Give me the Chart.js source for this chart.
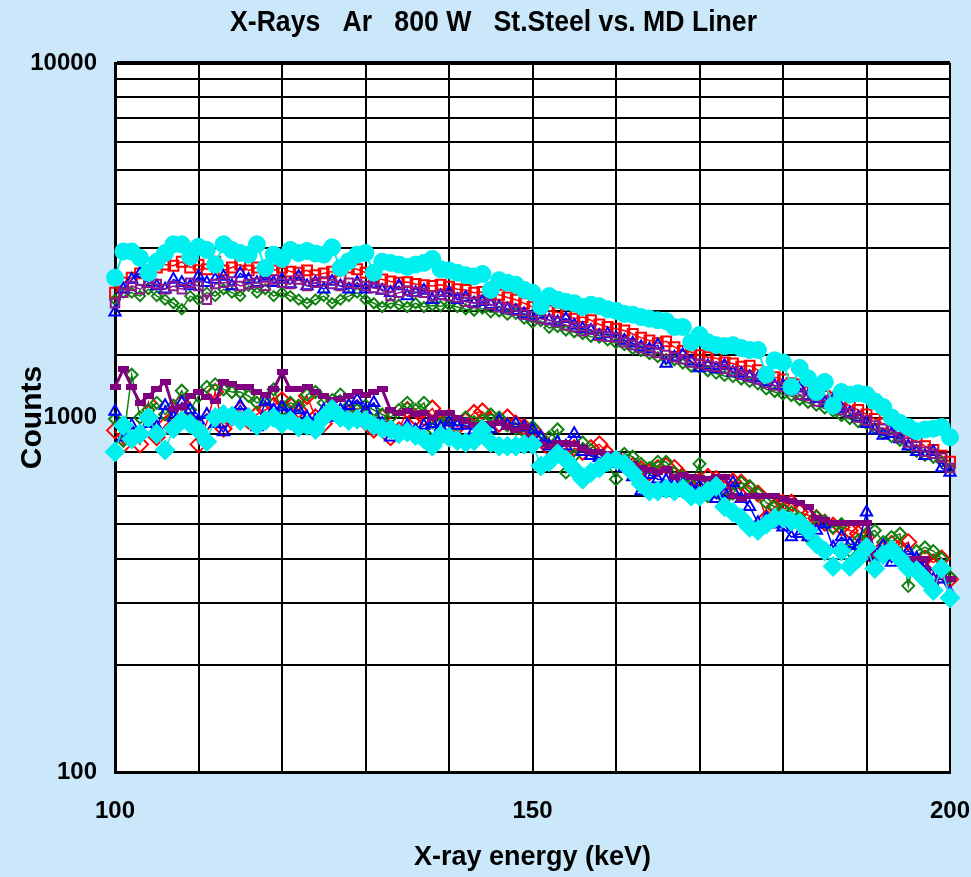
<!DOCTYPE html>
<html>
<head>
<meta charset="utf-8">
<script src="https://cdn.jsdelivr.net/npm/chart.js@4.4.1/dist/chart.umd.min.js"></script>
<style>
  html, body { margin: 0; padding: 0; background: #cbe8fb; }
  #wrap { width: 971px; height: 877px; }
</style>
</head>
<body>
<div id="wrap"><canvas id="xrayChart" width="971" height="877"></canvas></div>
<script>
// energy grid (keV), one channel per keV
const energy = [
  100, 101, 102, 103, 104, 105, 106, 107, 108, 109,
  110, 111, 112, 113, 114, 115, 116, 117, 118, 119,
  120, 121, 122, 123, 124, 125, 126, 127, 128, 129,
  130, 131, 132, 133, 134, 135, 136, 137, 138, 139,
  140, 141, 142, 143, 144, 145, 146, 147, 148, 149,
  150, 151, 152, 153, 154, 155, 156, 157, 158, 159,
  160, 161, 162, 163, 164, 165, 166, 167, 168, 169,
  170, 171, 172, 173, 174, 175, 176, 177, 178, 179,
  180, 181, 182, 183, 184, 185, 186, 187, 188, 189,
  190, 191, 192, 193, 194, 195, 196, 197, 198, 199,
  200
];

// upper group of spectra
const upperCyan = [
  2480, 2940, 2940, 2820, 2560, 2750, 2910, 3080, 3080, 2840,
  3030, 2970, 2700, 3080, 2970, 2910, 2880, 3080, 2640, 2880,
  2800, 2970, 2910, 2950, 2900, 2880, 3020, 2640, 2760, 2880,
  2910, 2560, 2750, 2730, 2700, 2660, 2700, 2730, 2800, 2620,
  2600, 2560, 2520, 2500, 2540, 2290, 2440, 2400, 2370, 2290,
  2250, 2060, 2200, 2150, 2120, 2100, 2050, 2080, 2060, 2020,
  2000, 1960, 1950, 1920, 1900, 1880, 1870, 1800, 1800, 1630,
  1710, 1630, 1600, 1590, 1600, 1570, 1550, 1550, 1320, 1450,
  1430, 1220, 1380, 1290, 1180, 1260, 1080, 1180, 1160, 1170,
  1160, 1110, 1070, 1000, 966, 940, 915, 925, 930, 940,
  880
];
const upperRed = [
  2250, 2400, 2480, 2550, 2600, 2650, 2700, 2680, 2750, 2650,
  2700, 2620, 2750, 2600, 2650, 2700, 2600, 2650, 2550, 2600,
  2650, 2580, 2560, 2600, 2520, 2550, 2580, 2500, 2650, 2620,
  2560, 2480, 2450, 2420, 2400, 2410, 2380, 2360, 2350, 2370,
  2340, 2300, 2290, 2250, 2260, 2230, 2220, 2180, 2150, 2100,
  2050, 2080, 2000, 1980, 1950, 1900, 1920, 1880, 1830, 1800,
  1780, 1760, 1720, 1680, 1650, 1620, 1640, 1580, 1540, 1530,
  1500, 1480, 1470, 1430, 1420, 1390, 1400, 1360, 1330, 1300,
  1280, 1250, 1240, 1210, 1190, 1150, 1140, 1100, 1080, 1050,
  1020, 990, 960, 950, 920, 880, 860, 830, 810, 780,
  750
];
const upperBlue = [
  1980, 2300, 2450, 2550, 2400, 2350, 2300, 2450, 2400, 2350,
  2500, 2400, 2450, 2500, 2350, 2550, 2450, 2400, 2500, 2400,
  2450, 2380, 2500, 2350, 2400, 2300, 2420, 2350, 2300, 2400,
  2300, 2380, 2280, 2250, 2350, 2200, 2250, 2280, 2150, 2200,
  2250, 2150, 2180, 2100, 2120, 2080, 2050, 2020, 2000, 1960,
  1930, 1950, 1880, 1860, 1900, 1820, 1780, 1760, 1700, 1720,
  1680, 1650, 1620, 1580, 1560, 1600, 1420, 1480, 1500, 1440,
  1380, 1400, 1370, 1400, 1340, 1330, 1300, 1290, 1260, 1230,
  1230, 1200, 1210, 1150, 1130, 1100, 1120, 1060, 1030, 1000,
  960, 920, 890, 900, 870, 830, 800, 780, 800, 720,
  700
];
const upperPurple = [
  2100, 2250, 2350, 2300, 2400, 2380, 2300, 2350, 2300, 2400,
  2350, 2150, 2380, 2400, 2420, 2350, 2380, 2400, 2350, 2450,
  2400, 2380, 2450, 2350, 2400, 2420, 2380, 2350, 2400, 2380,
  2350, 2320, 2300, 2200, 2250, 2280, 2260, 2250, 2200, 2220,
  2200, 2180, 2120, 2100, 2150, 2080, 2050, 2030, 2000, 1950,
  1930, 1900, 1880, 1860, 1820, 1800, 1750, 1770, 1700, 1690,
  1680, 1630, 1600, 1570, 1540, 1520, 1500, 1480, 1460, 1430,
  1420, 1400, 1390, 1370, 1350, 1320, 1300, 1280, 1250, 1230,
  1220, 1190, 1160, 1150, 1110, 1120, 1080, 1050, 1030, 1000,
  980, 950, 930, 920, 880, 850, 830, 800, 790, 770,
  720
];
const upperGreen = [
  2150, 2250, 2250, 2200, 2300, 2200, 2150, 2100, 2020, 2200,
  2150, 2250, 2200, 2300, 2250, 2200, 2350, 2250, 2300, 2200,
  2250, 2200, 2150, 2100, 2150, 2200, 2100, 2150, 2200, 2250,
  2150, 2100, 2050, 2100, 2080, 2050, 2100, 2050, 2070, 2060,
  2080, 2050, 2020, 2000, 2030, 1980, 1990, 1950, 1960, 1900,
  1850, 1870, 1790, 1800, 1760, 1740, 1720, 1690, 1680, 1650,
  1620, 1600, 1560, 1540, 1510, 1480, 1460, 1450, 1420, 1390,
  1380, 1350, 1330, 1310, 1300, 1280, 1260, 1240, 1200, 1180,
  1160, 1150, 1120, 1100, 1080, 1060, 1040, 1010, 990, 970,
  960, 930, 900, 880, 860, 830, 800, 780, 770, 750,
  720
];

// lower group of spectra
const lowerCyan = [
  800, 950, 870, 900, 1000, 900, 810, 930, 980, 960,
  920, 855, 1000, 1020, 1010, 980, 1000, 950, 980, 1000,
  960, 980, 940, 950, 925, 1000, 1055, 1000, 980, 990,
  980, 950, 930, 925, 900, 910, 890, 870, 830, 890,
  880, 860, 850, 860, 925, 850, 830, 830, 830, 840,
  840, 730, 750, 790, 760, 715, 670, 700, 720, 750,
  760, 740, 700, 650, 620, 620, 630, 620, 630, 600,
  600, 620, 640, 560, 540, 520, 490, 480, 500, 520,
  520, 510, 505, 480, 440, 420, 380, 420, 380, 400,
  430, 375, 410, 425, 400, 375, 370, 350, 325, 375,
  310
];
const lowerRed = [
  920, 840, 900, 840, 1100, 880, 950, 1000, 1100, 980,
  840, 970, 1180, 930, 1000, 1050, 980, 1020, 1050, 1080,
  1120, 1080, 1050, 1150, 1000, 960, 1050, 1000, 1030, 1060,
  970, 925, 1000, 880, 920, 1050, 1000, 1000, 1060, 970,
  1000, 940, 980, 1030, 1040, 980, 960, 1000, 960, 940,
  925, 870, 820, 800, 775, 820, 800, 820, 840, 790,
  760, 750, 730, 715, 700, 720, 730, 720, 680, 640,
  660, 680, 670, 655, 660, 655, 630, 610, 520, 560,
  575, 575, 540, 530, 520, 505, 495, 490, 480, 470,
  460, 400, 430, 440, 430, 445, 375, 400, 390, 400,
  350
];
const lowerGreen = [
  990, 860, 1320, 1000, 1050, 1100, 1020, 1080, 1190, 1050,
  1150, 1220, 1240, 1200, 1180, 1180, 1150, 1100, 1120, 1200,
  1050, 1100, 1080, 1160, 1180, 1100, 1120, 1160, 1080, 1050,
  1080, 1050, 1020, 1000, 1050, 1100, 1050, 1100, 930, 960,
  990, 950, 1000, 970, 980, 1020, 1000, 950, 930, 910,
  940, 870, 880, 925, 700, 780, 850, 810, 770, 740,
  670, 790, 775, 740, 720, 750, 750, 700, 680, 650,
  740, 600, 620, 590, 610, 655, 640, 610, 575, 560,
  550, 540, 520, 460, 525, 510, 490, 500, 420, 450,
  470, 480, 445, 460, 470, 335, 420, 430, 420, 400,
  355
];
const lowerBlue = [
  1040, 880, 950, 900, 960, 940, 1080, 1000, 1100, 1050,
  980, 1020, 960, 910, 1000, 1080, 1000, 940, 1110, 1050,
  1070, 1020, 1050, 1000, 980, 1050, 1000, 1050, 1080, 1120,
  1050, 1100, 960, 880, 900, 950, 920, 950, 960, 940,
  970, 950, 950, 920, 870, 930, 980, 950, 960, 940,
  925, 880, 830, 850, 830, 900, 800, 780, 770, 760,
  740, 720, 680, 620, 690, 670, 665, 650, 650, 630,
  640, 620, 590, 610, 655, 590, 560, 505, 520, 500,
  490, 460, 470, 460, 480, 500, 430, 460, 440, 435,
  540, 405, 435, 390, 410, 420, 400, 380, 350, 350,
  320
];
const lowerPurple = [
  1220, 1370, 1220, 1100, 1150, 1200, 1260, 1055, 1070, 1150,
  1180, 1140, 1110, 1260, 1240, 1220, 1220, 1180, 1160, 1200,
  1340, 1200, 1200, 1220, 1180, 1150, 1120, 1130, 1150, 1180,
  1160, 1180, 1200, 1050, 1030, 1040, 1020, 1030, 1000, 1030,
  1030, 1000, 980, 950, 950, 960, 965, 940, 925, 940,
  830, 840, 830, 850, 850, 840, 820, 800, 800, 790,
  780, 760, 740, 720, 710, 700, 715, 680, 690, 680,
  675, 670, 680, 680, 600, 590, 600, 600, 600, 600,
  590, 580, 575, 560, 520, 515, 505, 505, 505, 505,
  505, 410, 420, 410, 400, 400, 400, 400, 340, 360,
  350
];

const yTicksShown = [100, 1000, 10000];
const xTicksShown = [100, 150, 200];

const heading = 'X-Rays   Ar   800 W   St.Steel vs. MD Liner';
const sansBold = "'Liberation Sans', Arial, sans-serif";

// filled flat bar used as the lower purple marker
function barMarker(color) {
  const c = document.createElement('canvas');
  c.width = 11;
  c.height = 6;
  const g = c.getContext('2d');
  g.fillStyle = color;
  g.fillRect(0, 0, 11, 6);
  return c;
}

function series(values, color, style, radius, opts) {
  return Object.assign({
    data: energy.map((e, i) => ({ x: e, y: values[i] })),
    borderColor: color,
    backgroundColor: 'rgba(0,0,0,0)',
    pointBorderColor: color,
    pointBackgroundColor: 'rgba(0,0,0,0)',
    pointStyle: style,
    pointRadius: radius,
    pointBorderWidth: 2,
    borderWidth: 1.5,
    tension: 0,
    clip: false
  }, opts || {});
}

const datasets = [
  series(lowerCyan, '#00f0f0', 'rectRot', 10, { pointBackgroundColor: '#00f0f0', pointBorderWidth: 1, borderWidth: 1.5 }),
  series(upperCyan, '#00f0f0', 'circle', 8.5, { pointBackgroundColor: '#00f0f0', pointBorderWidth: 1, borderWidth: 2 }),
  series(lowerPurple, '#800080', barMarker('#800080'), 5, { borderWidth: 3 }),
  series(upperPurple, '#8b1a8b', 'rect', 6),
  series(lowerBlue, '#0000ff', 'triangle', 6.5),
  series(upperBlue, '#0000ff', 'triangle', 6.5),
  series(lowerGreen, '#108010', 'rectRot', 6),
  series(upperGreen, '#108010', 'rectRot', 5),
  series(lowerRed, '#ff0000', 'rectRot', 8),
  series(upperRed, '#ff0000', 'rect', 7)
];

// light blue page, white plot area, and the heading
const backdrop = {
  id: 'backdrop',
  beforeDraw(chart) {
    const { ctx, chartArea } = chart;
    ctx.save();
    ctx.fillStyle = '#cbe8fb';
    ctx.fillRect(0, 0, chart.width, chart.height);
    ctx.fillStyle = '#ffffff';
    ctx.fillRect(chartArea.left, chartArea.top, chartArea.right - chartArea.left, chartArea.bottom - chartArea.top);
    ctx.restore();
  },
  afterDraw(chart) {
    const ctx = chart.ctx;
    ctx.save();
    ctx.fillStyle = '#000000';
    ctx.font = 'bold 29px ' + sansBold;
    ctx.textBaseline = 'middle';
    const w = ctx.measureText(heading).width;
    const sx = 527 / w;
    ctx.translate(230, 23);
    ctx.scale(sx, 1);
    ctx.fillText(heading, 0, 0);
    ctx.restore();
  }
};

new Chart(document.getElementById('xrayChart'), {
  type: 'line',
  data: { datasets: datasets },
  plugins: [backdrop],
  options: {
    responsive: false,
    animation: false,
    layout: { padding: { top: 63, right: 21, bottom: 0, left: 0 } },
    plugins: {
      legend: { display: false },
      tooltip: { enabled: false },
      title: { display: false }
    },
    scales: {
      x: {
        type: 'linear',
        min: 100,
        max: 200,
        afterFit(scale) {
          scale.height = 105;
          scale.paddingLeft = 0;
          scale.paddingRight = 0;
        },
        ticks: {
          stepSize: 10,
          padding: 25,
          color: '#000000',
          font: { family: sansBold, size: 24, weight: 'bold' },
          maxRotation: 0,
          callback: v => xTicksShown.includes(v) ? String(v) : ''
        },
        grid: { color: '#000000', lineWidth: 2, drawTicks: false },
        border: { color: '#000000', width: 3 },
        title: {
          display: true,
          text: 'X-ray energy (keV)',
          color: '#000000',
          font: { family: sansBold, size: 27, weight: 'bold' },
          padding: { top: 0, bottom: 3 }
        }
      },
      y: {
        type: 'logarithmic',
        min: 100,
        max: 10000,
        afterFit(scale) { scale.width = 115; },
        ticks: {
          padding: 18,
          color: '#000000',
          autoSkip: false,
          font: { family: sansBold, size: 24, weight: 'bold' },
          callback: v => yTicksShown.includes(v) ? String(v) : ''
        },
        grid: {
          color: '#000000',
          drawTicks: false,
          lineWidth: c => (c.tick && c.tick.value === 10000) ? 4 : 2
        },
        border: { color: '#000000', width: 3 },
        title: {
          display: true,
          text: 'Counts',
          color: '#000000',
          font: { family: sansBold, size: 30, weight: 'bold' },
          padding: { top: 15, bottom: 0 }
        }
      }
    }
  }
});
</script>
</body>
</html>
